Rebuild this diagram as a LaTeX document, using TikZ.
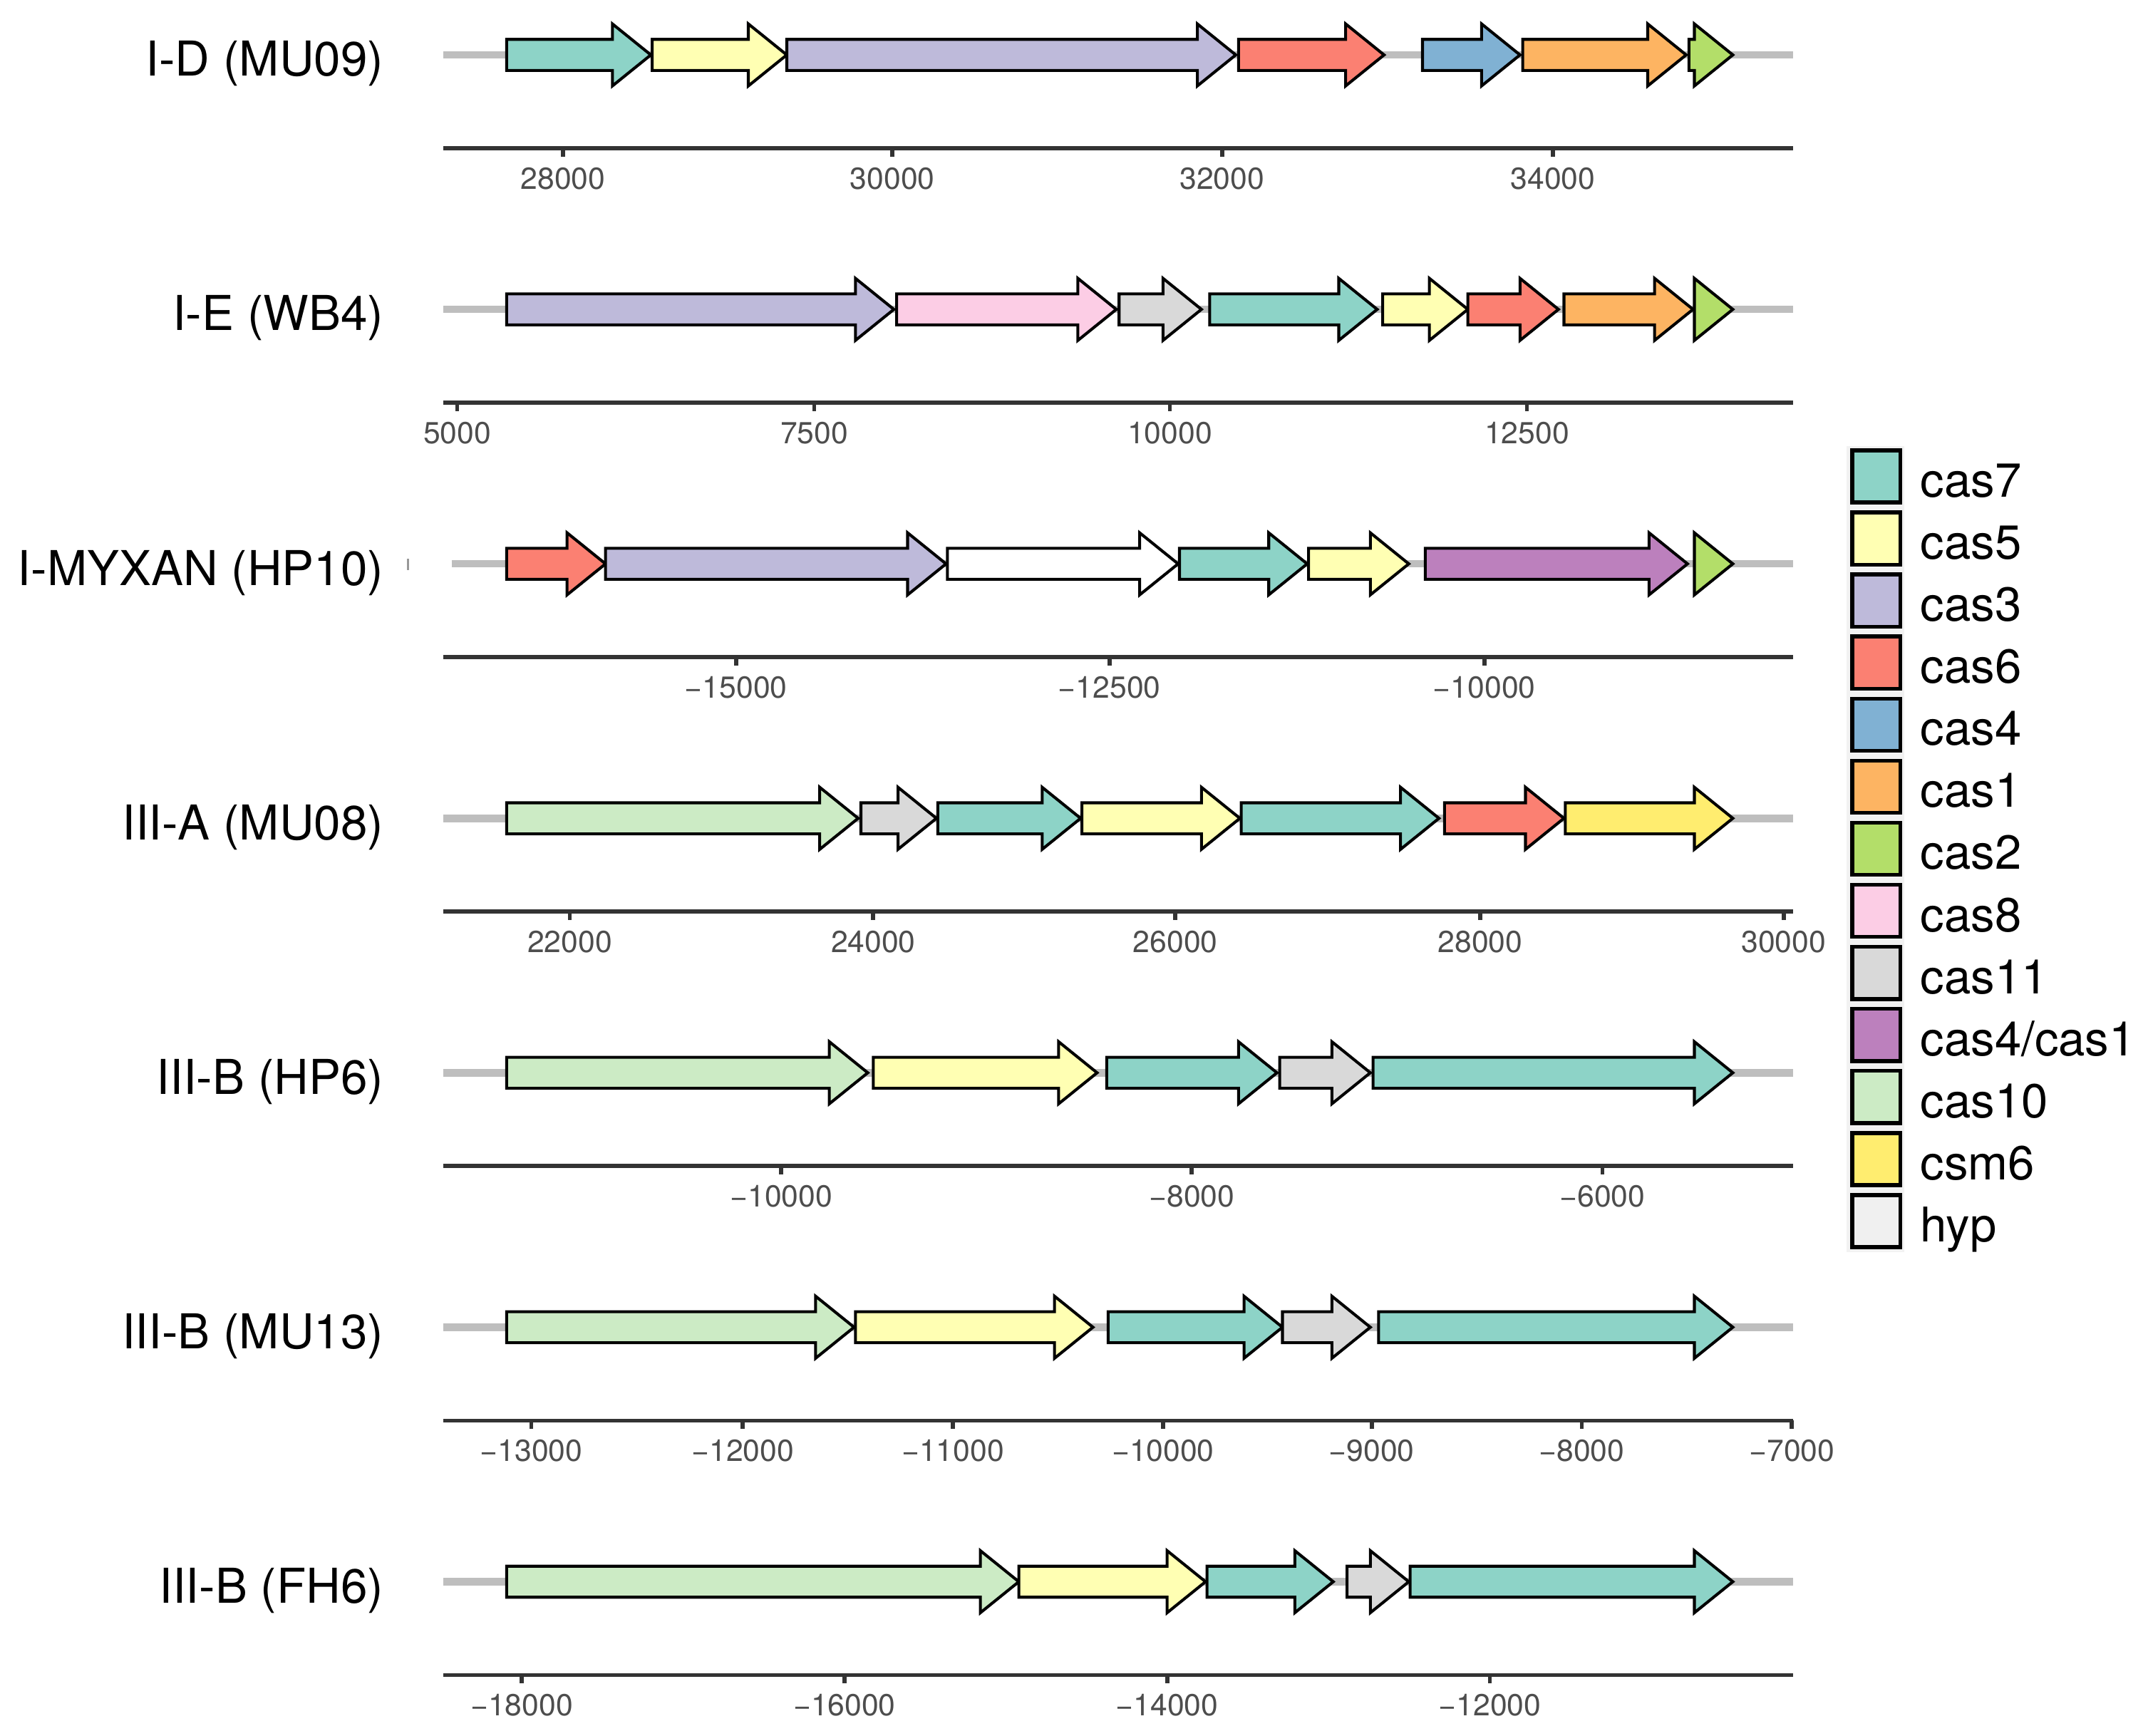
\documentclass[tikz,border=0pt]{standalone}
\usepackage{fontspec}
\setmainfont{TeX Gyre Heros}
\usetikzlibrary{positioning}

% gene colours
\definecolor{cas7}{HTML}{8DD3C7}
\definecolor{cas5}{HTML}{FFFFB3}
\definecolor{cas3}{HTML}{BEBADA}
\definecolor{cas6}{HTML}{FB8072}
\definecolor{cas4}{HTML}{80B1D3}
\definecolor{cas1}{HTML}{FDB462}
\definecolor{cas2}{HTML}{B3DE69}
\definecolor{cas8}{HTML}{FCCDE5}
\definecolor{cas11}{HTML}{D9D9D9}
\definecolor{cas41}{HTML}{BC80BD}
\definecolor{cas10}{HTML}{CCEBC5}
\definecolor{csm6}{HTML}{FFED6F}
\definecolor{hyp}{HTML}{FFFFFF}
\definecolor{hypkey}{HTML}{F0F0F0}
\definecolor{legbg}{HTML}{F2F2F2}
\definecolor{bbgrey}{HTML}{BEBEBE}
\definecolor{axgrey}{HTML}{333333}
\definecolor{tickgrey}{HTML}{4D4D4D}

% arrow for one gene: y, start, end, colour
\newcommand{\gene}[4]{%
  \pgfmathsetmacro{\headlen}{min(28,#3-#2)}%
  \path[genearrow, fill=#4] (#2,#1-11.3) -- ({#3-\headlen},#1-11.3)
    -- ({#3-\headlen},#1-22.6) -- (#3,#1) -- ({#3-\headlen},#1+22.6)
    -- ({#3-\headlen},#1+11.3) -- (#2,#1+11.3) -- cycle;}

% axis under a row: row no, y, ticks
\newcommand{\genaxis}[3]{%
  \draw[axisline] (323,#2) -- (1306,#2);
  \foreach \v/\x [count=\i] in {#3} {
    \draw[axisline] (\x,#2) -- (\x,#2+6);
    \node[ticklab] (tick#1-\i) at (\x,#2+29.6) {\v};
  }}

\begin{document}
\begin{tikzpicture}[x=0.01cm, y=-0.01cm,
    genearrow/.style={draw=black, line width=0.6pt, line join=miter},
    backbone/.style={draw=bbgrey, line width=1.55pt},
    axisline/.style={draw=axgrey, line width=0.85pt},
    rowlab/.style={anchor=base east, inner sep=0pt, font=\fontsize{9.95}{12}\selectfont},
    ticklab/.style={anchor=base, inner sep=0pt, text=tickgrey, font=\fontsize{6.3}{7}\selectfont},
    legkey/.style={draw=black, line width=0.8pt, minimum width=0.35cm, minimum height=0.38cm, inner sep=0pt},
    legtext/.style={anchor=base west, inner sep=0pt, font=\fontsize{9.9}{12}\selectfont}]
  \useasboundingbox (0,0) rectangle (1568,1264);

  % row labels and backbones
  \foreach \r/\lab in {1/I-D (MU09), 2/I-E (WB4), 3/I-MYXAN (HP10), 4/III-A (MU08),
      5/III-B (HP6), 6/III-B (MU13), 7/III-B (FH6)} {
    \pgfmathsetmacro{\ry}{40+185.33*(\r-1)}
    \node[rowlab] (lab\r) at (280,\ry+15.5) {\lab};
    \coordinate (bb\r-l) at (323,\ry);
    \coordinate (bb\r-r) at (1306,\ry);
  }
  \coordinate (bb3-l) at (329,410.66);
  \foreach \r in {1,...,7}
    \draw[backbone] (bb\r-l) -- (bb\r-r);
  \draw[bbgrey!80!black, line width=0.4pt] (297,407) -- (297,415);

  % I-D (MU09)
  \foreach \a/\b/\c in {369/474/cas7, 475/573/cas5, 573/900/cas3, 902/1008/cas6,
      1036/1107/cas4, 1109/1228/cas1, 1230/1262/cas2}
    \gene{40}{\a}{\b}{\c};
  \genaxis{1}{108}{28000/410, 30000/650, 32000/890, 34000/1131}

  % I-E (WB4)
  \foreach \a/\b/\c in {369/651/cas3, 653/813/cas8, 815/875/cas11, 881/1003/cas7,
      1007/1069/cas5, 1069/1135/cas6, 1139/1233/cas1, 1234/1262/cas2}
    \gene{225.33}{\a}{\b}{\c};
  \genaxis{2}{293.33}{5000/333, 7500/593, 10000/852, 12500/1112}

  % I-MYXAN (HP10)
  \foreach \a/\b/\c in {369/441/cas6, 441/689/cas3, 690/858/hyp, 859/952/cas7,
      953/1026/cas5, 1038/1229/cas41, 1234/1262/cas2}
    \gene{410.66}{\a}{\b}{\c};
  \genaxis{3}{478.66}{−15000/536, −12500/808, −10000/1081}

  % III-A (MU08)
  \foreach \a/\b/\c in {369/625/cas10, 627/682/cas11, 683/787/cas7, 788/903/cas5,
      904/1048/cas7, 1052/1139/cas6, 1140/1262/csm6}
    \gene{596}{\a}{\b}{\c};
  \genaxis{4}{664}{22000/415, 24000/636, 26000/856, 28000/1078, 30000/1299}

  % III-B (HP6)
  \foreach \a/\b/\c in {369/632/cas10, 636/799/cas5, 806/930/cas7, 932/998/cas11,
      1000/1262/cas7}
    \gene{781.33}{\a}{\b}{\c};
  \genaxis{5}{849.33}{−10000/569, −8000/868, −6000/1167}

  % III-B (MU13)
  \foreach \a/\b/\c in {369/622/cas10, 623/796/cas5, 807/934/cas7, 934/998/cas11,
      1004/1262/cas7}
    \gene{966.66}{\a}{\b}{\c};
  \genaxis{6}{1034.66}{−13000/387, −12000/541, −11000/694, −10000/847, −9000/999, −8000/1152, −7000/1305}

  % III-B (FH6)
  \foreach \a/\b/\c in {369/742/cas10, 742/878/cas5, 879/971/cas7, 981/1026/cas11,
      1027/1262/cas7}
    \gene{1152}{\a}{\b}{\c};
  \genaxis{7}{1220}{−18000/380, −16000/615, −14000/850, −12000/1085}

  % legend
  \fill[legbg] (1345,325) rectangle (1387,912);
  \foreach \c/\t [count=\i from 0] in {cas7/cas7, cas5/cas5, cas3/cas3, cas6/cas6,
      cas4/cas4, cas1/cas1, cas2/cas2, cas8/cas8, cas11/cas11, cas41/cas4\slash cas1,
      cas10/cas10, csm6/csm6, hypkey/hyp} {
    \node[legkey, fill=\c] (key\i) at (1366.5,347+45.2*\i) {};
    \node[legtext] (leg\i) at (1398,362+45.2*\i) {\t};
  }
\end{tikzpicture}
\end{document}
